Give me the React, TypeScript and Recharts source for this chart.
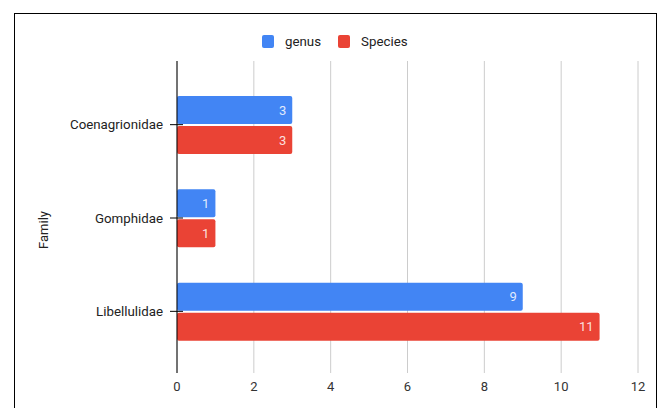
import React from 'react';
import { BarChart, Bar, XAxis, YAxis, CartesianGrid, LabelList } from 'recharts';

const families = ['Coenagrionidae', 'Gomphidae', 'Libellulidae'];
const genusCounts = [3, 1, 9];
const speciesCounts = [3, 1, 11];
const xTicks = [0, 2, 4, 6, 8, 10, 12];
const seriesKeys = ['genus', 'Species'];
const seriesColors = ['#4285F4', '#EA4335'];
const yAxisTitle = 'Family';

const data = families.map((f, i) => ({
  family: f,
  genus: genusCounts[i],
  Species: speciesCounts[i],
}));

const FONT = 'Roboto, Arial, sans-serif';

const YTick = (props: any) => {
  const { x, y, payload } = props;
  return (
    <g>
      <line x1={x + 7} x2={x + 20} y1={y} y2={y} stroke="#000" strokeWidth={1} />
      <text x={x} y={y} dy="0.355em" textAnchor="end" fill="#222" fontSize={13.3} fontFamily={FONT}>
        {payload.value}
      </text>
    </g>
  );
};

export default function App() {
  return (
    <div
      style={{
        position: 'absolute',
        left: 0,
        top: 0,
        width: 665,
        height: 408,
        overflow: 'hidden',
        background: '#fff',
      }}
    >
      <div
        style={{
          position: 'absolute',
          left: 14,
          top: 13,
          width: 641,
          height: 500,
          border: '1.5px solid #000',
          boxSizing: 'content-box',
        }}
      />
      <div
        style={{
          position: 'absolute',
          left: 262,
          top: 35,
          display: 'flex',
          alignItems: 'center',
          fontFamily: FONT,
          fontSize: 13.3,
          color: '#222',
          lineHeight: '13px',
        }}
      >
        {seriesKeys.map((k, i) => (
          <div key={k} style={{ display: 'flex', alignItems: 'center', marginRight: 17 }}>
            <div
              style={{
                width: 12,
                height: 13,
                borderRadius: 2,
                background: seriesColors[i],
                marginRight: 11,
              }}
            />
            <span>{k}</span>
          </div>
        ))}
      </div>
      <div style={{ position: 'absolute', left: 0, top: 0 }}>
        <BarChart
          width={665}
          height={408}
          data={data}
          layout="vertical"
          margin={{ top: 61, right: 27, bottom: 0, left: 0 }}
          barGap={2}
          barSize={28}
        >
          <CartesianGrid horizontal={false} stroke="#cccccc" />
          <XAxis
            type="number"
            domain={[0, 12]}
            ticks={xTicks}
            height={35}
            axisLine={false}
            tickLine={false}
            tickSize={0}
            tickMargin={9}
            tick={{ fill: '#333', fontSize: 13, fontFamily: FONT }}
          />
          <YAxis
            type="category"
            dataKey="family"
            width={177}
            padding={{ top: 17, bottom: 15 }}
            axisLine={{ stroke: '#000', strokeWidth: 1 }}
            tickLine={false}
            tickSize={0}
            tickMargin={14}
            tick={<YTick />}
            label={({ viewBox }: any) => {
              const cy = viewBox.y + viewBox.height / 2 + 13;
              return (
                <text
                  x={43}
                  y={cy}
                  transform={`rotate(-90, 43, ${cy})`}
                  textAnchor="middle"
                  dominantBaseline="central"
                  fill="#222"
                  fontSize={13}
                  fontFamily={FONT}
                >
                  {yAxisTitle}
                </text>
              );
            }}
          />
          {seriesKeys.map((k, i) => (
            <Bar key={k} dataKey={k} fill={seriesColors[i]} radius={2} isAnimationActive={false}>
              <LabelList
                dataKey={k}
                position="insideRight"
                offset={6}
                fill="#ffffff"
                fillOpacity={0.85}
                fontSize={13}
                fontFamily={FONT}
              />
            </Bar>
          ))}
        </BarChart>
      </div>
    </div>
  );
}
